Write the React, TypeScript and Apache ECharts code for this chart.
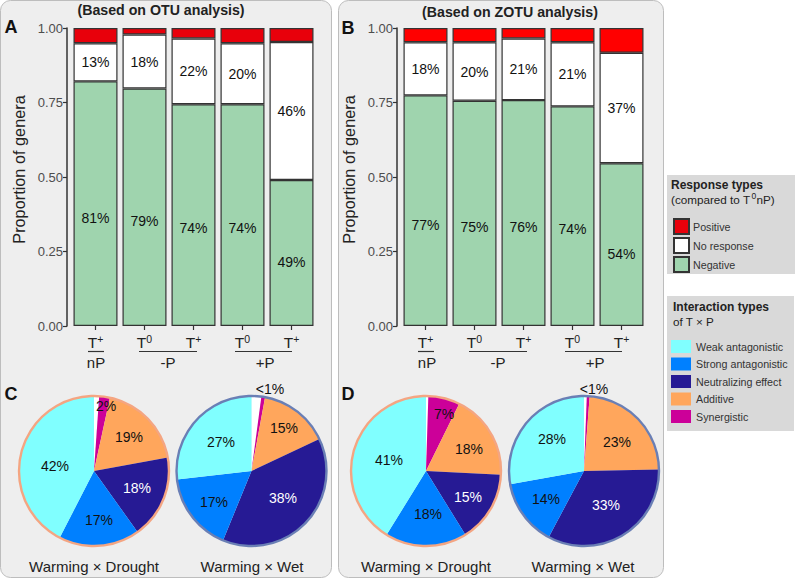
import { useEffect, useRef } from 'react';
import * as echarts from 'echarts';

const FONT = '"Liberation Sans", Arial, sans-serif';

// stacked bars, bottom to top
const barCategories = ['T+', 'T0', 'T+', 'T0', 'T+'];
const otuNegative = [0.821, 0.797, 0.744, 0.744, 0.49];
const otuNoResponse = [0.128, 0.181, 0.221, 0.205, 0.463];
const otuPositive = [0.051, 0.022, 0.035, 0.051, 0.047];
const otuNegativeLabels = ['81%', '79%', '74%', '74%', '49%'];
const otuNoResponseLabels = ['13%', '18%', '22%', '20%', '46%'];

const zotuNegative = [0.774, 0.756, 0.758, 0.737, 0.546];
const zotuNoResponse = [0.178, 0.196, 0.207, 0.215, 0.371];
const zotuPositive = [0.048, 0.048, 0.035, 0.048, 0.083];
const zotuNegativeLabels = ['77%', '75%', '76%', '74%', '54%'];
const zotuNoResponseLabels = ['18%', '20%', '21%', '21%', '37%'];

// pies, clockwise from 12 o'clock; first slice is the small white gap
const pieNames = ['Unassigned', 'Synergistic', 'Additive', 'Neutralizing effect', 'Strong antagonistic', 'Weak antagonistic'];
const pieColors = ['#ffffff', '#cc0099', '#ffa65c', '#261a94', '#0080ff', '#80ffff'];
const pieLabelColors = ['#111', '#111', '#111', '#fff', '#111', '#111'];
const otuDrought = [1.1, 2.3, 18.7, 18, 17.4, 42.4];
const otuWet = [2.1, 0.8, 15.1, 38.2, 17, 26.8];
const zotuDrought = [0.5, 6.8, 18.5, 15.4, 17.6, 41.2];
const zotuWet = [0.6, 0.6, 23.5, 33.1, 14.4, 27.8];
const otuDroughtLabels = ['', '2%', '19%', '18%', '17%', '42%'];
const otuWetLabels = ['', '<1%', '15%', '38%', '17%', '27%'];
const zotuDroughtLabels = ['', '7%', '18%', '15%', '18%', '41%'];
const zotuWetLabels = ['', '<1%', '23%', '33%', '14%', '28%'];

// hand placed labels in the original, so pixel spots here
const otuDroughtSpots = [[0, 0], [106, 406], [129, 437], [137, 488], [99, 520], [55, 466]];
const otuWetSpots = [[0, 0], [270, 389], [284, 428], [283, 498], [214, 502], [221, 442]];
const zotuDroughtSpots = [[0, 0], [444, 414], [469, 449], [468, 497], [428, 514], [389, 460]];
const zotuWetSpots = [[0, 0], [594, 389], [617, 442], [606, 505], [546, 499], [552, 439]];

const barGrid = (left: number) => ({ left, width: 245, top: 28, height: 298 });

const valueAxis = (gridIndex: number) => ({
  type: 'value' as const,
  gridIndex,
  min: 0,
  max: 1,
  interval: 0.25,
  offset: 4,
  name: 'Proportion of genera',
  nameLocation: 'middle' as const,
  nameGap: 40,
  // the title sits a little above the middle of the axis
  nameTextStyle: { fontFamily: FONT, fontSize: 16.3, color: '#222', padding: [0, 0, 0, 15] },
  axisLine: { show: true, lineStyle: { color: '#333', width: 1.5 } },
  axisTick: { show: true, length: 4, lineStyle: { color: '#333', width: 1.2 } },
  axisLabel: {
    fontFamily: FONT,
    fontSize: 13,
    color: '#4d4d4d',
    margin: 4,
    formatter: (v: number) => v.toFixed(2),
  },
  splitLine: { show: false },
});

const categoryAxis = (gridIndex: number) => ({
  type: 'category' as const,
  gridIndex,
  data: barCategories,
  offset: 2,
  axisLine: { show: false },
  axisTick: { show: true, length: 4, alignWithLabel: true, lineStyle: { color: '#333', width: 1.2 } },
  axisLabel: {
    interval: 0,
    margin: 5,
    formatter: (v: string) => `{t|T}{s|${v.slice(1)}}`,
    rich: {
      t: { fontFamily: FONT, fontSize: 15.5, color: '#222', lineHeight: 17, verticalAlign: 'bottom' as const },
      s: { fontFamily: FONT, fontSize: 10.5, color: '#222', lineHeight: 17, verticalAlign: 'top' as const },
    },
  },
});

const barStack = (
  name: string,
  axisIndex: number,
  data: number[],
  color: string,
  labels?: string[],
  labelPosition?: any,
) => ({
  name,
  type: 'bar' as const,
  stack: `stack${axisIndex}`,
  xAxisIndex: axisIndex,
  yAxisIndex: axisIndex,
  barWidth: 44,
  data,
  itemStyle: { color, borderColor: '#333', borderWidth: 1.2 },
  label: labels
    ? {
        show: true,
        position: labelPosition,
        align: 'center' as const,
        verticalAlign: 'middle' as const,
        fontFamily: FONT,
        fontSize: 14,
        color: '#111',
        textBorderWidth: 0,
        formatter: (p: any) => labels[p.dataIndex],
      }
    : { show: false },
});

const pieSeries = (cx: number, values: number[], labels: string[], spots: number[][]) => ({
  type: 'pie' as const,
  center: [cx, 471],
  radius: 75,
  startAngle: 90,
  clockwise: true,
  avoidLabelOverlap: false,
  labelLine: { show: false },
  emphasis: { disabled: true },
  label: {
    show: true,
    position: 'inside' as const,
    fontFamily: FONT,
    fontSize: 14,
    textBorderWidth: 0,
    formatter: (p: any) => labels[p.dataIndex],
  },
  labelLayout: (p: any) => ({
    x: spots[p.dataIndex][0],
    y: spots[p.dataIndex][1],
    align: 'center',
    verticalAlign: 'middle',
  }),
  data: values.map((value, i) => ({
    name: pieNames[i],
    value,
    itemStyle: { color: pieColors[i] },
    label: { color: pieLabelColors[i] },
  })),
});

const text = (x: number, y: number, str: string, fontSize: number, extra: any = {}) => ({
  type: 'text' as const,
  x,
  y,
  z: 6,
  style: {
    text: str,
    fontFamily: FONT,
    fontSize,
    fill: '#222',
    align: 'center',
    verticalAlign: 'middle',
    ...extra,
  },
});

const panel = (x: number, width: number) => ({
  type: 'rect' as const,
  z: -1,
  shape: { x, y: 0.5, width, height: 577, r: 10 },
  style: { fill: '#eeeeee', stroke: '#bdbdbd', lineWidth: 1 },
});

const box = (x: number, y: number, width: number, height: number) => ({
  type: 'rect' as const,
  z: -1,
  shape: { x, y, width, height },
  style: { fill: '#d9d9d9' },
});

const rim = (cx: number, stroke: string) => ({
  type: 'circle' as const,
  z: 5,
  shape: { cx, cy: 471, r: 75 },
  style: { fill: 'none', stroke, lineWidth: 2.4 },
});

const bracket = (x1: number, x2: number) => ({
  type: 'line' as const,
  z: 5,
  shape: { x1, y1: 351.5, x2, y2: 351.5 },
  style: { stroke: '#333', lineWidth: 1.2 },
});

const App = () => {
  const chartRef = useRef<HTMLDivElement>(null);

  useEffect(() => {
    if (!chartRef.current) return;
    const chart = echarts.init(chartRef.current, undefined, { renderer: 'svg' });

    chart.setOption({
      animation: false,
      grid: [barGrid(71), barGrid(401)],
      xAxis: [categoryAxis(0), categoryAxis(1)],
      yAxis: [valueAxis(0), valueAxis(1)],
      legend: [
        {
          left: 668,
          top: 213,
          orient: 'vertical',
          icon: 'rect',
          itemWidth: 15,
          itemHeight: 15,
          itemGap: 2,
          selectedMode: false,
          data: ['Positive', 'No response', 'Negative'],
          textStyle: { fontFamily: FONT, fontSize: 10.7, color: '#333', padding: [0, 0, 0, -1] },
        },
        {
          left: 666,
          top: 335,
          orient: 'vertical',
          icon: 'rect',
          itemWidth: 20,
          itemHeight: 13,
          itemGap: 4.5,
          selectedMode: false,
          data: ['Weak antagonistic', 'Strong antagonistic', 'Neutralizing effect', 'Additive', 'Synergistic'],
          itemStyle: { borderWidth: 0 },
          textStyle: { fontFamily: FONT, fontSize: 10.7, color: '#333' },
        },
      ],
      series: [
        barStack('Negative', 0, otuNegative, '#9fd4ae', otuNegativeLabels, ['50%', '56%']),
        barStack('No response', 0, otuNoResponse, '#ffffff', otuNoResponseLabels, ['50%', '50%']),
        barStack('Positive', 0, otuPositive, '#e8000b'),
        barStack('Negative', 1, zotuNegative, '#9fd4ae', zotuNegativeLabels, ['50%', '56%']),
        barStack('No response', 1, zotuNoResponse, '#ffffff', zotuNoResponseLabels, ['50%', '50%']),
        barStack('Positive', 1, zotuPositive, '#ff0000'),
        pieSeries(94, otuDrought, otuDroughtLabels, otuDroughtSpots),
        pieSeries(251.5, otuWet, otuWetLabels, otuWetSpots),
        pieSeries(426, zotuDrought, zotuDroughtLabels, zotuDroughtSpots),
        pieSeries(584, zotuWet, zotuWetLabels, zotuWetSpots),
      ],
      graphic: [
        panel(0.5, 331),
        panel(338.5, 325),
        box(667, 175, 128, 99),
        box(667, 296, 127, 135),
        rim(94, '#f4a582'),
        rim(251.5, '#6a7fb5'),
        rim(426, '#f4a582'),
        rim(584, '#6a7fb5'),
        bracket(88, 104),
        bracket(139, 197),
        bracket(235, 292),
        bracket(418, 434),
        bracket(469, 527),
        bracket(565, 622),
        text(161, 10, '(Based on OTU analysis)', 14.2, { fontWeight: 'bold' }),
        text(510, 12, '(Based on ZOTU analysis)', 14.2, { fontWeight: 'bold' }),
        text(11, 27, 'A', 18, { fontWeight: 'bold', fill: '#111' }),
        text(348, 28, 'B', 18, { fontWeight: 'bold', fill: '#111' }),
        text(11, 394, 'C', 18, { fontWeight: 'bold', fill: '#111' }),
        text(348, 394, 'D', 18, { fontWeight: 'bold', fill: '#111' }),
        text(96, 362, 'nP', 15),
        text(168, 362, '-P', 15),
        text(265, 362, '+P', 15),
        text(427, 362, 'nP', 15),
        text(498, 362, '-P', 15),
        text(595, 362, '+P', 15),
        text(94, 566, 'Warming × Drought', 15),
        text(252, 566, 'Warming × Wet', 15),
        text(426, 566, 'Warming × Drought', 15),
        text(583, 566, 'Warming × Wet', 15),
        text(671, 185, 'Response types', 12, { fontWeight: 'bold', align: 'left' }),
        text(671, 199, '(compared to T', 11.7, { align: 'left' }),
        text(751.5, 196, '0', 8.5, { align: 'left' }),
        text(756.5, 199, 'nP)', 11.7, { align: 'left' }),
        text(673, 306.5, 'Interaction types', 12, { fontWeight: 'bold', align: 'left' }),
        text(673, 321, 'of T × P', 11.7, { align: 'left' }),
      ],
    });

    return () => {
      chart.dispose();
    };
  }, []);

  return <div ref={chartRef} style={{ position: 'absolute', left: 0, top: 0, width: 795, height: 578 }} />;
};

export default App;
